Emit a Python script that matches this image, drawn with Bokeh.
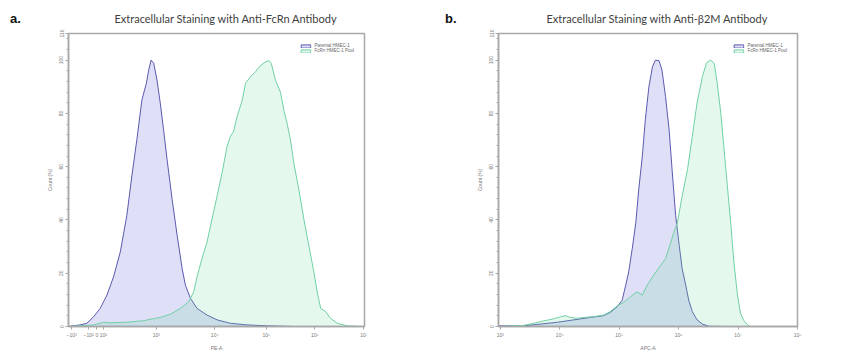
from bokeh.plotting import figure
from bokeh.models import FixedTicker, Legend, LegendItem, Range1d, Div
from bokeh.layouts import row
from bokeh.embed import file_html
from bokeh.resources import INLINE

# ---------------- data ----------------
# Panel a: x in FlowJo display channel units (biexponential scale)
a_tick_pos = [11, 68, 96, 118, 297, 494, 668, 832, 998]
a_tick_labels = ["−10³", "−10²", "0", "10²", "10³", "10⁴", "10⁵", "10⁶", "10⁷"]

a_parental_x = [0, 39, 62, 85, 107, 130, 152, 175, 197, 214, 231, 248, 263, 271, 279, 288,
                299, 310, 321, 333, 350, 367, 384, 395, 412, 434, 468, 502, 547, 603, 671, 761, 1000]
a_parental_y = [0, 0.6, 1.2, 3.7, 6.8, 11.8, 18.6, 28, 41.6, 56.5, 70.2, 85.1, 91.3, 96.3, 100, 98.8,
                92.5, 83.9, 74, 62.7, 47.8, 34.2, 21.7, 15.5, 10.6, 6.8, 4.3, 2.5, 1.2, 0.6, 0.25, 0, 0]

a_fcrn_x = [0, 85, 118, 141, 197, 254, 310, 344, 378, 406, 423, 434, 451, 468, 485, 502, 519, 536,
            547, 558, 570, 587, 598, 615, 632, 649, 666, 677, 685, 699, 716, 728, 739, 750, 761, 778,
            795, 812, 829, 840, 852, 869, 885, 908, 942, 987, 1000]
a_fcrn_y = [0, 0.6, 1.6, 1.4, 1.6, 2.2, 3.4, 4.6, 6.8, 9.3, 13, 18.6, 25.5, 31.7, 40.4, 49, 57.8, 67.7,
            71.4, 73.3, 79, 85, 91.3, 93.8, 95.7, 98, 99.4, 99.8, 98.8, 92.5, 88, 81, 76, 70, 61.5, 51.5,
            40.4, 30.4, 20.5, 13, 6.8, 5.6, 3.1, 1.2, 0.25, 0, 0]

# Panel b: x in log10(APC-A) units
b_tick_pos = [3, 4, 5, 6, 7, 8]
b_tick_labels = ["10³", "10⁴", "10⁵", "10⁶", "10⁷", "10⁸"]

b_parental_x = [2.97, 2.98, 3.39, 3.67, 3.96, 4.24, 4.52, 4.74, 4.85, 4.97, 5.05, 5.11, 5.16, 5.22, 5.28,
                5.33, 5.39, 5.44, 5.50, 5.56, 5.61, 5.67, 5.72, 5.78, 5.84, 5.89, 5.95, 6.01, 6.06,
                6.12, 6.17, 6.23, 6.31, 6.40, 6.51, 6.76, 8.0]
b_parental_y = [0, 0.25, 0.25, 0.9, 1.6, 2.5, 3.4, 4.1, 5.3, 7.5, 9.9, 15.5, 20.5, 29.2, 39.1, 51.6,
                64, 77.6, 90, 97.5, 100, 99.8, 96.3, 86.3, 73.9, 59, 41.6, 30.4, 21.7, 15.5, 9.9,
                5.6, 2.5, 0.9, 0.1, 0, 0]

b_fcrn_x = [2.97, 3.39, 3.56, 3.73, 3.90, 4.01, 4.10, 4.18, 4.29, 4.40, 4.57, 4.74, 4.85, 4.97, 5.08,
            5.19, 5.30, 5.39, 5.47, 5.58, 5.70, 5.78, 5.87, 5.92, 5.98, 6.06, 6.15, 6.23, 6.31, 6.40,
            6.47, 6.54, 6.60, 6.65, 6.71, 6.76, 6.82, 6.88, 6.93, 6.99, 7.04, 7.10, 7.16, 7.21, 8.0]
b_fcrn_y = [0, 0.4, 1.2, 2.1, 2.9, 3.6, 4.1, 3.4, 3.1, 3.4, 3.7, 4.3, 5.6, 7.8, 9.1, 11.2, 13, 11.8,
            15.5, 19.3, 23, 25.5, 31.7, 35.4, 39, 49, 59, 71.4, 83.9, 93.8, 99, 100, 98.8, 91.3, 80,
            67.7, 52.8, 37.9, 24.2, 11.8, 5, 2.1, 0.6, 0, 0]

y_tick_pos = [0, 20, 40, 60, 80, 100, 110]
y_tick_labels = ["0", "20", "40", "60", "80", "100", "110"]

series_names = ["Parental HMEC-1", "FcRn HMEC-1 Pool"]
titles = ["Extracellular Staining with Anti-FcRn Antibody", "Extracellular Staining with Anti-β2M Antibody"]
panel_tags = ["a.", "b."]
x_labels = ["PE-A", "APC-A"]

BLUE_LINE = "#5a5aae"
BLUE_FILL = "#8080e0"
GREEN_LINE = "#70d0a4"
GREEN_FILL = "#6ad6a0"
AXIS = "#a8a8a8"
TICKTXT = "#777777"
TAG_W = 30


def make_tag(tag, left):
    html = ('<span style="position:relative;left:%dpx;top:11px;font-family:\'Liberation Sans\',Arial,sans-serif;'
            'font-weight:bold;font-size:13px;line-height:15px;color:#111111;white-space:nowrap;">%s</span>'
            % (left, tag))
    return Div(text=html, width=TAG_W, height=353, margin=(0, 0, 0, 0))


def make_panel(width, frame_left, frame_w, frame_top, xr, xticks, xlabels, px, py, gx, gy,
               title, xlabel, title_left):
    height = 353
    frame_bottom = 328
    p = figure(width=width, height=height, output_backend="svg", toolbar_location=None,
               x_range=Range1d(*xr), y_range=Range1d(0, 110),
               min_border_left=frame_left, min_border_right=width - frame_left - frame_w,
               min_border_top=frame_top, min_border_bottom=height - frame_bottom,
               background_fill_color="white", border_fill_color="white", margin=(0, 0, 0, 0))
    p.grid.visible = False
    p.outline_line_color = AXIS
    p.outline_line_width = 1.5

    # title
    p.title.text = title
    p.title.align = "left"
    p.title.offset = title_left
    p.title.text_font = "Lato"
    p.title.text_font_size = "11px"
    p.title.text_font_style = "normal"
    p.title.text_color = "#404040"
    p.title.standoff = 17

    # x axis
    p.xaxis.ticker = FixedTicker(ticks=xticks)
    p.xaxis.major_label_overrides = {t: l for t, l in zip(xticks, xlabels)}
    p.xaxis.axis_label = xlabel
    # y axis
    yminor = [v for v in range(0, 111, 4)]
    p.yaxis.ticker = FixedTicker(ticks=y_tick_pos, minor_ticks=yminor)
    p.yaxis.major_label_overrides = {t: l for t, l in zip(y_tick_pos, y_tick_labels)}
    p.yaxis.axis_label = "Count (%)"
    p.yaxis.major_label_orientation = "vertical"
    for ax in (p.xaxis[0], p.yaxis[0]):
        ax.axis_line_color = AXIS
        ax.axis_line_width = 1.5
        ax.major_tick_line_color = AXIS
        ax.minor_tick_line_color = AXIS
        ax.major_tick_out = 3
        ax.major_tick_in = 0
        ax.minor_tick_out = 2
        ax.minor_tick_in = 0
        ax.major_label_text_font_size = "5px"
        ax.major_label_text_color = TICKTXT
        ax.major_label_text_font = "Liberation Sans"
        ax.major_label_standoff = 2
        ax.axis_label_text_font_size = "5px"
        ax.axis_label_text_font_style = "normal"
        ax.axis_label_text_color = TICKTXT
        ax.axis_label_text_font = "Liberation Sans"
        ax.axis_label_standoff = 4

    r1 = p.patch(px, py, fill_color=BLUE_FILL, fill_alpha=0.25, line_color=BLUE_LINE, line_width=1.0)
    r2 = p.patch(gx, gy, fill_color=GREEN_FILL, fill_alpha=0.18, line_color=GREEN_LINE, line_width=1.0)

    legend = Legend(items=[LegendItem(label=series_names[0], renderers=[r1]),
                           LegendItem(label=series_names[1], renderers=[r2])],
                    location="top_right", margin=10, padding=2, spacing=0,
                    label_text_font_size="4.5px", label_text_color="#666666",
                    label_height=4, glyph_height=4, glyph_width=12, label_standoff=3,
                    border_line_color=None, background_fill_alpha=0)
    p.add_layout(legend)
    return p


tag_a = make_tag(panel_tags[0], 10)
pa = make_panel(432 - TAG_W, 68 - TAG_W, 296, 33, (0, 1000), a_tick_pos, a_tick_labels,
                a_parental_x, a_parental_y, a_fcrn_x, a_fcrn_y, titles[0], x_labels[0], 46)
tag_b = make_tag(panel_tags[1], 13)
pb = make_panel(433 - TAG_W, 66 - TAG_W, 299, 32, (2.97, 8.0), b_tick_pos, b_tick_labels,
                b_parental_x, b_parental_y, b_fcrn_x, b_fcrn_y, titles[1], x_labels[1], 48)

layout = row(tag_a, pa, tag_b, pb, spacing=0)
open("out.html", "w").write(file_html(layout, INLINE))
